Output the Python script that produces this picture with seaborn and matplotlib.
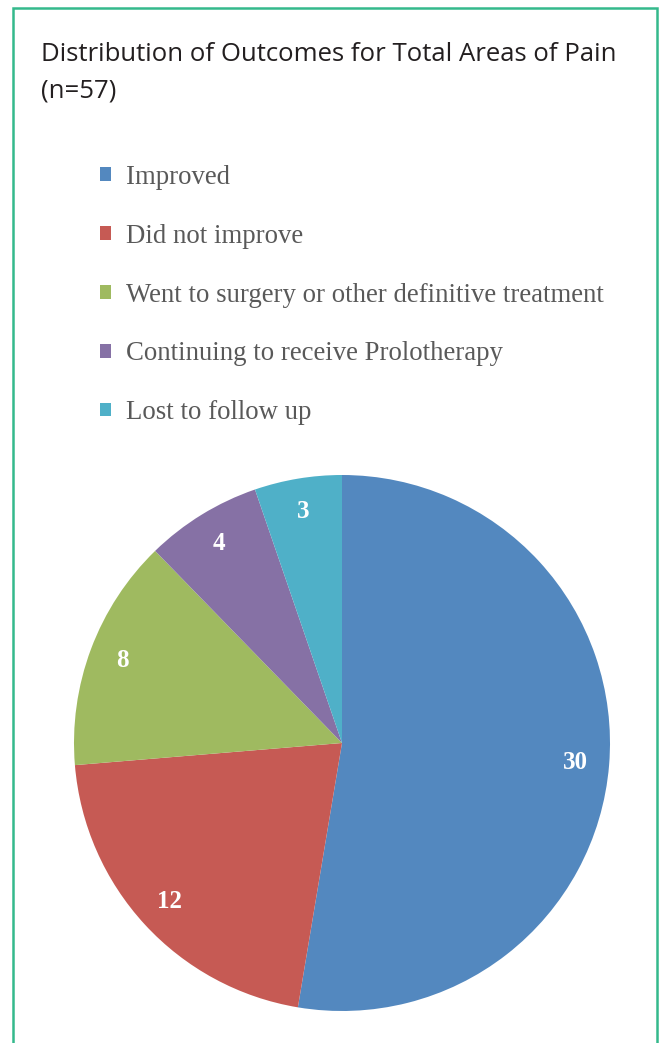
import matplotlib
matplotlib.use("Agg")
import matplotlib.pyplot as plt
from matplotlib.patches import Rectangle
import seaborn as sns

categories = ["Improved", "Did not improve", "Went to surgery or other definitive treatment",
              "Continuing to receive Prolotherapy", "Lost to follow up"]
counts = [30, 12, 8, 4, 3]
colors = ["#5388bf", "#c65a54", "#9fba60", "#8671a5", "#4fb0c8"]
title = "Distribution of Outcomes for Total Areas of Pain\n(n=57)"

sns.set_theme(style="white")
plt.rcParams["font.family"] = ["Open Sans", "DejaVu Sans"]

W, H = 661, 1043
fig = plt.figure(figsize=(W / 100, H / 100), dpi=100)
fig.patch.set_facecolor("white")

# frame
fig.patches.append(Rectangle((13 / W, -0.02), (657 - 13) / W, 1 - 8 / H + 0.02,
                             transform=fig.transFigure, fill=False,
                             edgecolor="#34b98c", linewidth=1.8))

# title
fig.text(41 / W, 1 - 42 / H, title, ha="left", va="top", fontsize=18.5,
         color="#231f20", linespacing=1.6)

# pie
cx, cy, r = 342, 743, 268
ax = fig.add_axes([(cx - r) / W, 1 - (cy + r) / H, 2 * r / W, 2 * r / H])
total = sum(counts)
wedges, _, autotexts = ax.pie(counts, colors=colors, startangle=90, counterclock=False,
                              radius=1, pctdistance=0.875,
                              autopct=lambda p: f"{round(p * total / 100)}",
                              wedgeprops=dict(linewidth=0))
for t in autotexts:
    t.set_color("white")
    t.set_fontfamily("Liberation Serif")
    t.set_fontweight("bold")
    t.set_fontsize(18)
ax.set_xlim(-1, 1)
ax.set_ylim(-1, 1)
ax.set_aspect("equal")
ax.axis("off")

leg = fig.legend(wedges, categories, loc="upper left",
                 bbox_to_anchor=(100 / W, 1 - 165 / H), frameon=False,
                 prop=dict(family="Liberation Serif", size=19.3),
                 handlelength=0.42, handleheight=0.42, handletextpad=0.56,
                 labelspacing=1.26, borderpad=0, borderaxespad=0)
for t in leg.get_texts():
    t.set_color("#595959")

fig.savefig("out.png", dpi=100)
